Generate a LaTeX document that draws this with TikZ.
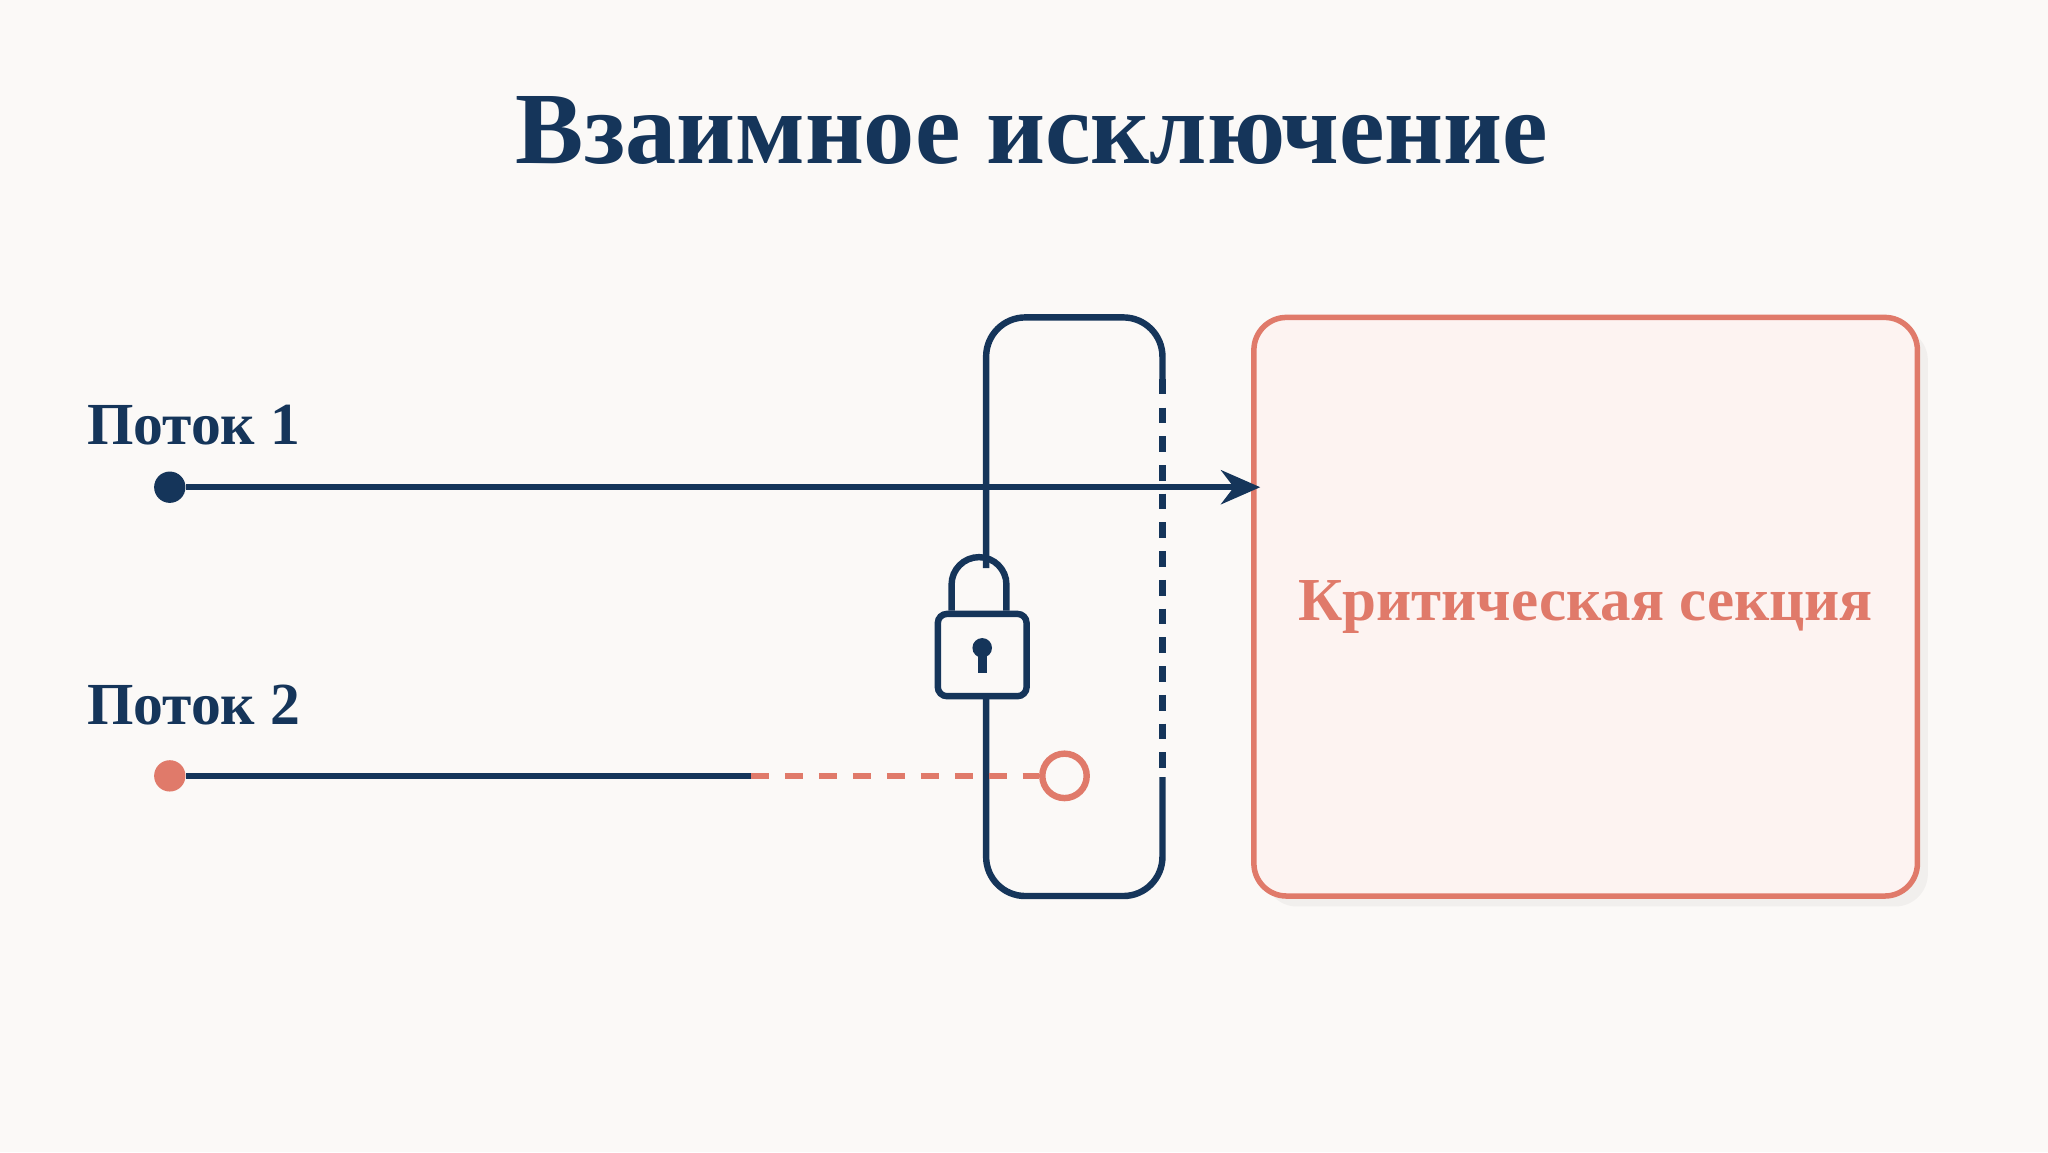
\documentclass[tikz,border=0pt]{standalone}
\usepackage{fontspec}
\setmainfont{Liberation Serif}
\usetikzlibrary{positioning}
\usetikzlibrary{arrows.meta}
\usetikzlibrary{shadows}
\definecolor{navy}{HTML}{15355A}
\definecolor{salmon}{HTML}{E07A6A}
\definecolor{pale}{HTML}{FDF3F1}
\definecolor{bg}{HTML}{FBF9F7}
\tikzset{
  lbl/.style={font=\fontsize{13}{15}\selectfont\bfseries, text=navy, anchor=base west, inner sep=0pt},
  wire/.style={line width=1.4pt, draw=navy},
}
\begin{document}
\begin{tikzpicture}
            % background and title
            \fill[bg] (0,0) rectangle (15.68,-8.82);
            \useasboundingbox (0,0) rectangle (15.68,-8.82);
            \node[font=\fontsize{22.3}{26}\selectfont\bfseries, text=navy] (title) at (7.9,-1.0) {Взаимное исключение};

            % critical section
            \node[draw=salmon, line width=1.2pt, fill=pale, rounded corners=0.25cm, minimum width=5.08cm, minimum height=4.43cm,
                  drop shadow={shadow xshift=0.08cm, shadow yshift=-0.08cm, opacity=0.08}] (crit) at (12.14,-4.645) {};
            \node[font=\fontsize{13.3}{16}\selectfont\bfseries, text=salmon] (critlbl) at (crit.center) {Критическая секция};

            % gate
            \draw[wire] (7.55,-4.35) -- (7.55,-2.73) arc (180:90:0.3) -- (8.6,-2.43) arc (90:0:0.3) -- (8.9,-2.9);
            \draw[wire, dashed, dash pattern=on 0.12cm off 0.1cm] (8.9,-2.9) -- (8.9,-5.95);
            \draw[wire] (8.9,-5.95) -- (8.9,-6.56) arc (0:-90:0.3) -- (7.85,-6.86) arc (-90:-180:0.3) -- (7.55,-5.33);

            % lock
            \node[draw=navy, line width=1.4pt, rounded corners=0.07cm, minimum width=0.68cm, minimum height=0.63cm, inner sep=0pt] (lockbody) at (7.52,-5.015) {};
            \draw[wire] (lockbody.north west) ++(0.13,0) -- ++(0,0.2) arc (180:0:0.21) -- ++(0,-0.2);
            \fill[navy] (7.52,-4.96) circle (0.075);
            \draw[navy, line width=2pt] (7.52,-4.98) -- (7.52,-5.15);

            % threads
            \node[lbl] (t1) at (0.66,-3.4) {Поток 1};
            \node[lbl] (t2) at (0.66,-5.55) {Поток 2};
            \node[circle, fill=navy, inner sep=0pt, minimum size=0.24cm] (d1) at (1.3,-3.73) {};
            \node[circle, fill=salmon, inner sep=0pt, minimum size=0.24cm] (d2) at (1.3,-5.94) {};
            \coordinate (wait) at (5.75,-5.94);
            \node[circle, draw=salmon, fill=bg, line width=1.4pt, inner sep=0pt, minimum size=0.34cm] (stop) at (8.15,-5.94) {};
            \draw[wire, -{Stealth[length=0.3cm, width=0.26cm]}] (d1) -- ([xshift=0.07cm]crit.west |- d1);
            \draw[wire] (d2) -- (wait);
            \draw[line width=1.4pt, salmon, dashed, dash pattern=on 0.14cm off 0.12cm] (wait) -- (stop);
\end{tikzpicture}
\end{document}
